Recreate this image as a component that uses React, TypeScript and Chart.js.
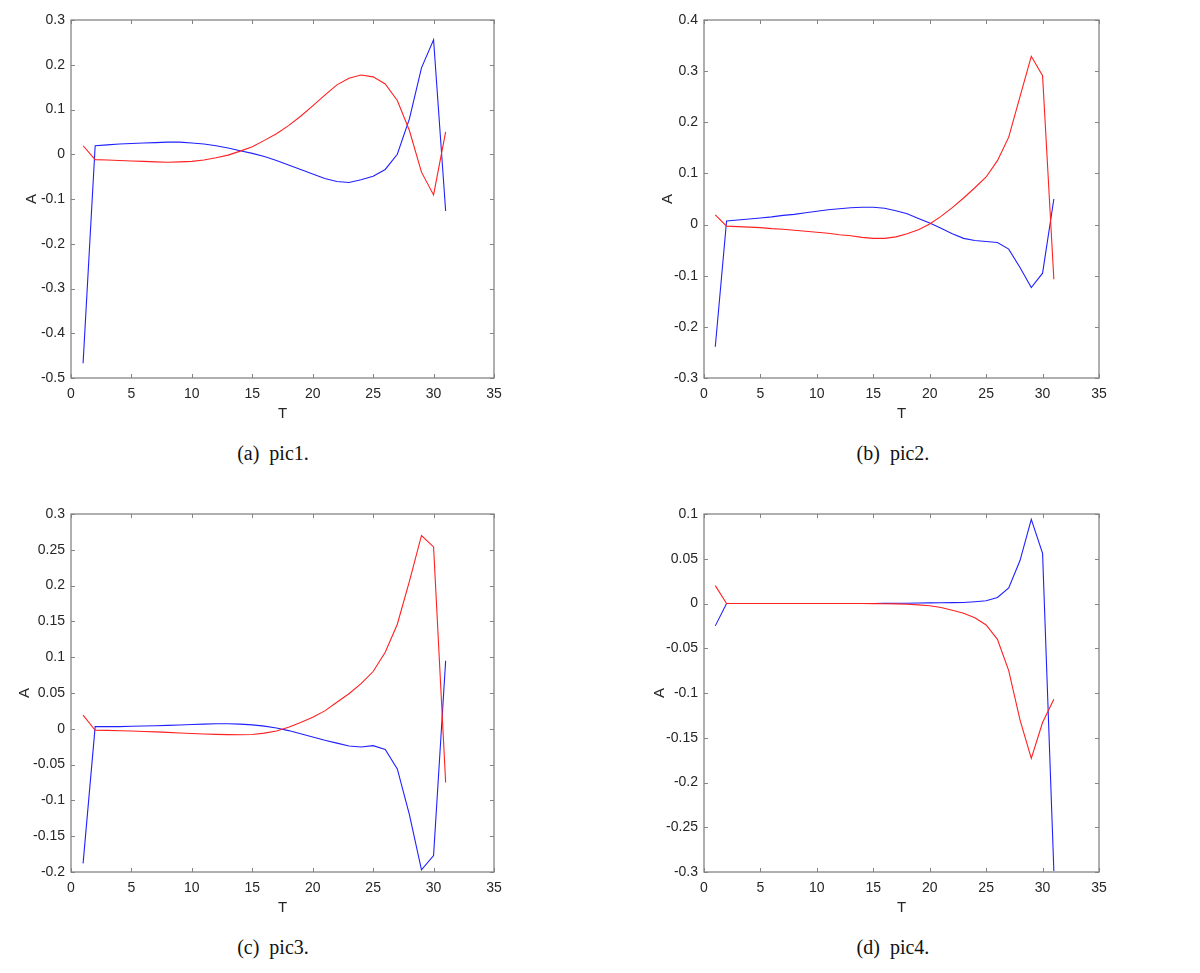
import { useEffect, useRef } from 'react';
import { Chart, registerables } from 'chart.js';

Chart.register(...registerables);

const T = Array.from({ length: 31 }, (_, i) => i + 1);

// pic1
const pic1Blue = [-0.467, 0.019, 0.021, 0.023, 0.024, 0.025, 0.026, 0.027, 0.027, 0.025, 0.023, 0.019, 0.014, 0.008, 0.002, -0.005, -0.014, -0.024, -0.034, -0.044, -0.054, -0.061, -0.063, -0.057, -0.049, -0.034, 0.0, 0.079, 0.193, 0.256, -0.127];
const pic1Red = [0.019, -0.012, -0.013, -0.014, -0.015, -0.016, -0.017, -0.018, -0.017, -0.016, -0.013, -0.008, -0.002, 0.007, 0.017, 0.031, 0.046, 0.064, 0.085, 0.108, 0.132, 0.155, 0.17, 0.177, 0.173, 0.157, 0.12, 0.053, -0.04, -0.091, 0.05];

// pic2
const pic2Blue = [-0.239, 0.007, 0.009, 0.011, 0.013, 0.015, 0.018, 0.02, 0.023, 0.026, 0.029, 0.031, 0.033, 0.034, 0.034, 0.032, 0.027, 0.021, 0.012, 0.003, -0.007, -0.018, -0.027, -0.031, -0.033, -0.035, -0.048, -0.084, -0.123, -0.095, 0.05];
const pic2Red = [0.019, -0.003, -0.004, -0.005, -0.006, -0.008, -0.009, -0.011, -0.013, -0.015, -0.017, -0.02, -0.022, -0.025, -0.027, -0.027, -0.024, -0.018, -0.01, 0.001, 0.016, 0.033, 0.052, 0.072, 0.093, 0.125, 0.171, 0.25, 0.329, 0.291, -0.107];

// pic3
const pic3Blue = [-0.188, 0.003, 0.003, 0.003, 0.0035, 0.004, 0.0043, 0.0048, 0.0053, 0.006, 0.0065, 0.007, 0.007, 0.0065, 0.0055, 0.0037, 0.0012, -0.0025, -0.007, -0.0115, -0.016, -0.02, -0.024, -0.0255, -0.0235, -0.029, -0.056, -0.12, -0.197, -0.177, 0.095];
const pic3Red = [0.019, -0.002, -0.0022, -0.0027, -0.003, -0.0037, -0.0043, -0.005, -0.0058, -0.0065, -0.0072, -0.0078, -0.0082, -0.0083, -0.008, -0.006, -0.003, 0.0023, 0.0088, 0.016, 0.025, 0.037, 0.049, 0.063, 0.08, 0.107, 0.146, 0.206, 0.27, 0.254, -0.075];

// pic4
const pic4Blue = [-0.025, 0, 0, 0, 0, 0, 0, 0, 0, 0, 0, 0, 0, 0, 0, 0.0001, 0.0002, 0.0003, 0.0005, 0.0007, 0.0008, 0.001, 0.0012, 0.002, 0.003, 0.0067, 0.0175, 0.048, 0.094, 0.056, -0.299];
const pic4Red = [0.02, 0, 0, 0, 0, 0, 0, 0, 0, 0, 0, 0, 0, 0, -0.0001, -0.0002, -0.0004, -0.0008, -0.0015, -0.0026, -0.0045, -0.0075, -0.011, -0.016, -0.024, -0.04, -0.075, -0.13, -0.173, -0.133, -0.107];

const xTicks = { min: 0, max: 35, step: 5 };
const yRanges = [
  { min: -0.5, max: 0.3, step: 0.1 },
  { min: -0.3, max: 0.4, step: 0.1 },
  { min: -0.2, max: 0.3, step: 0.05 },
  { min: -0.3, max: 0.1, step: 0.05 },
];
const captions = ['(a)  pic1.', '(b)  pic2.', '(c)  pic3.', '(d)  pic4.'];

const SANS = '"Liberation Sans", Arial, Helvetica, sans-serif';

// box + inward ticks on all four sides, like a matlab axes
const boxPlugin = {
  id: 'matlabBox',
  afterDraw(chart: any) {
    const { ctx, chartArea: a, scales } = chart;
    const len = 4;
    ctx.save();
    ctx.strokeStyle = '#858585';
    ctx.lineWidth = 1;
    ctx.beginPath();
    scales.x.ticks.forEach((t: any) => {
      const px = Math.round(scales.x.getPixelForValue(t.value)) + 0.5;
      ctx.moveTo(px, a.bottom);
      ctx.lineTo(px, a.bottom - len);
      ctx.moveTo(px, a.top);
      ctx.lineTo(px, a.top + len);
    });
    scales.y.ticks.forEach((t: any) => {
      const py = Math.round(scales.y.getPixelForValue(t.value)) + 0.5;
      ctx.moveTo(a.left, py);
      ctx.lineTo(a.left + len, py);
      ctx.moveTo(a.right, py);
      ctx.lineTo(a.right - len, py);
    });
    ctx.stroke();
    ctx.lineWidth = 1.3;
    ctx.strokeRect(a.left, a.top, a.right - a.left, a.bottom - a.top);
    ctx.restore();
  },
};

const fmt = (v: number) => {
  const r = Math.round(v * 100) / 100;
  return r === 0 ? '0' : String(r);
};

interface PanelProps {
  red: number[];
  blue: number[];
  range: { min: number; max: number; step: number };
  left: number;
  top: number;
  width: number;
  yAxisWidth: number;
  padRight: number;
  yTitleOffset: number;
}

const HEIGHT = 430;
const X_AXIS_H = 52;

function Panel({ red, blue, range, left, top, width, yAxisWidth, padRight, yTitleOffset }: PanelProps) {
  const canvasRef = useRef<HTMLCanvasElement | null>(null);

  useEffect(() => {
    if (!canvasRef.current) return;
    const ctx = canvasRef.current.getContext('2d');
    if (!ctx) return;

    const chart = new Chart(ctx, {
      type: 'line',
      data: {
        datasets: [
          {
            data: T.map((t, i) => ({ x: t, y: red[i] })),
            borderColor: '#ff2020',
            borderWidth: 1.1,
            pointRadius: 0,
            tension: 0,
          },
          {
            data: T.map((t, i) => ({ x: t, y: blue[i] })),
            borderColor: '#2020ff',
            borderWidth: 1.1,
            pointRadius: 0,
            tension: 0,
          },
        ],
      },
      options: {
        responsive: false,
        animation: false,
        layout: { padding: { top: 20, right: padRight, left: 0, bottom: 0 } },
        plugins: { legend: { display: false }, tooltip: { enabled: false } },
        scales: {
          x: {
            type: 'linear',
            min: xTicks.min,
            max: xTicks.max,
            grid: { display: false, drawTicks: false },
            border: { display: false },
            ticks: {
              stepSize: xTicks.step,
              padding: 8,
              color: '#262626',
              font: { family: SANS, size: 14 },
              maxRotation: 0,
            },
            title: {
              display: true,
              text: 'T',
              color: '#262626',
              font: { family: SANS, size: 15 },
              padding: { top: 0, bottom: 16 - 9 },
            },
            afterFit: (s: any) => {
              s.height = X_AXIS_H;
            },
          },
          y: {
            type: 'linear',
            min: range.min,
            max: range.max,
            grid: { display: false, drawTicks: false },
            border: { display: false },
            ticks: {
              stepSize: range.step,
              padding: 6,
              color: '#262626',
              font: { family: SANS, size: 14 },
              callback: (v: any) => fmt(Number(v)),
            },
            title: {
              display: true,
              text: 'A',
              color: '#262626',
              font: { family: SANS, size: 15 },
              padding: { top: yTitleOffset - 9, bottom: 0 },
            },
            afterFit: (s: any) => {
              s.width = yAxisWidth;
            },
          },
        },
      },
      plugins: [boxPlugin],
    });

    return () => {
      chart.destroy();
    };
  }, [red, blue, range, padRight, yAxisWidth, yTitleOffset]);

  return (
    <canvas
      ref={canvasRef}
      width={width}
      height={HEIGHT}
      style={{ position: 'absolute', left, top, width, height: HEIGHT }}
    />
  );
}

function Caption({ text, cx, cy }: { text: string; cx: number; cy: number }) {
  return (
    <div
      style={{
        position: 'absolute',
        left: cx - 100,
        top: cy - 12,
        width: 200,
        textAlign: 'center',
        whiteSpace: 'pre',
        fontFamily: '"Liberation Serif", "Times New Roman", serif',
        fontSize: 20,
        lineHeight: '24px',
        color: '#111',
      }}
    >
      {text}
    </div>
  );
}

export default function App() {
  return (
    <div style={{ position: 'absolute', left: 0, top: 0, width: 1200, height: 973, background: '#fff', overflow: 'hidden' }}>
      <Panel red={pic1Red} blue={pic1Blue} range={yRanges[0]} left={0} top={0} width={520} yAxisWidth={71} padRight={26} yTitleOffset={32} />
      <Panel red={pic2Red} blue={pic2Blue} range={yRanges[1]} left={620} top={0} width={500} yAxisWidth={84} padRight={21} yTitleOffset={48} />
      <Panel red={pic3Red} blue={pic3Blue} range={yRanges[2]} left={0} top={494} width={520} yAxisWidth={71} padRight={26} yTitleOffset={25} />
      <Panel red={pic4Red} blue={pic4Blue} range={yRanges[3]} left={620} top={494} width={500} yAxisWidth={84} padRight={21} yTitleOffset={40} />
      <Caption text={captions[0]} cx={273} cy={453} />
      <Caption text={captions[1]} cx={893} cy={453} />
      <Caption text={captions[2]} cx={273} cy={947} />
      <Caption text={captions[3]} cx={893} cy={947} />
    </div>
  );
}
